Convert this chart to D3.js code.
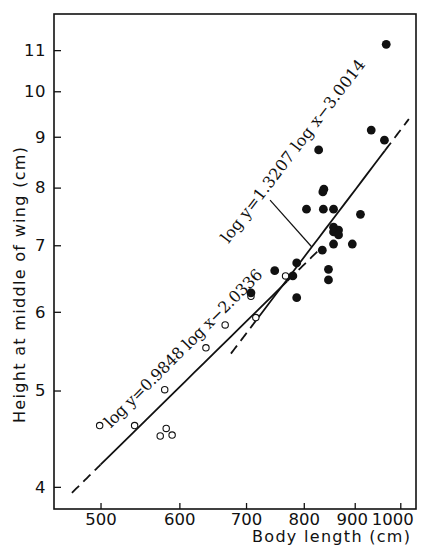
<!DOCTYPE html>
<html><head><meta charset="utf-8">
<script src="https://cdn.jsdelivr.net/npm/d3@7/dist/d3.min.js"></script>
<style>body{margin:0;background:#fff}svg{display:block}</style>
</head><body>
<svg id="c" width="424" height="551"></svg>
<script>
// Data
const xTicks = [500, 600, 700, 800, 900, 1000];
const yTicks = [4, 5, 6, 7, 8, 9, 10, 11];
// open circles (smaller specimens)
const openX = [499, 541, 580, 574, 582, 590, 638, 667, 716, 708, 767];
const openY = [4.61, 4.61, 5.01, 4.50, 4.58, 4.51, 5.52, 5.82, 5.92, 6.22, 6.52];
// filled circles (larger specimens)
const fillX = [968, 935, 964, 828, 836, 838, 805, 837, 857, 912, 857, 867, 857, 867, 857, 895, 835, 787, 847, 847, 748, 780, 787, 708];
const fillY = [11.15, 9.14, 8.93, 8.73, 7.92, 7.97, 7.61, 7.61, 7.61, 7.52, 7.30, 7.25, 7.22, 7.17, 7.02, 7.02, 6.92, 6.72, 6.62, 6.46, 6.60, 6.52, 6.20, 6.27];
// regression lines: log y = a log x + b
const fit1 = {a: 0.9848, b: -2.0336, dash1: [468, 500], solid: [500, 770], dash2: [770, 830]};
const fit2 = {a: 1.3207, b: -3.0014, dash1: [676, 716], solid: [716, 965], dash2: [965, 1020]};
const label1 = "log y=0.9848 log x\u22122.0336";
const label2 = "log y=1.3207 log x\u22123.0014";
const xTitle = "Body length (cm)";
const yTitle = "Height at middle of wing (cm)";

const L = 54, R = 416, T = 14, B = 509;
const x = d3.scaleLog().domain([449, 1037]).range([L, R]);
const y = d3.scaleLog().domain([3.8, 11.96]).range([B, T]);
const svg = d3.select("#c");
const f = (fit, v) => Math.pow(10, fit.a * Math.log10(v) + fit.b);

// frame
svg.append("rect").attr("x", L).attr("y", T).attr("width", R - L).attr("height", B - T)
  .attr("fill", "none").attr("stroke", "#111").attr("stroke-width", 1.6);

// y axis ticks (inward)
const yAxis = d3.axisLeft(y).tickValues(yTicks).tickSize(-7).tickPadding(8).tickFormat(d3.format("d"));
const gy = svg.append("g").attr("transform", `translate(${L},0)`).call(yAxis);
gy.select(".domain").remove();
gy.selectAll("line").attr("stroke", "#111").attr("stroke-width", 1.3);
gy.selectAll("text").attr("font-family", "DejaVu Sans, sans-serif").attr("font-size", 16.5).attr("fill", "#111").attr("letter-spacing", 0.5);

const xAxis = d3.axisBottom(x).tickValues(xTicks).tickSize(-6).tickPadding(4).tickFormat(d3.format("d"));
const gx = svg.append("g").attr("transform", `translate(0,${B})`).call(xAxis);
gx.select(".domain").remove();
gx.selectAll("line").attr("stroke", "#111").attr("stroke-width", 1.3);
gx.selectAll("text").attr("font-family", "DejaVu Sans, sans-serif").attr("font-size", 16.5).attr("fill", "#111")
  .attr("dx", d => d === 1000 ? -8 : (d === 900 ? -3 : 0));

// axis titles
svg.append("text").attr("x", 331).attr("y", 542).attr("text-anchor", "middle")
  .attr("font-family", "DejaVu Sans, sans-serif").attr("font-size", 16).attr("fill", "#111")
  .attr("textLength", 158).attr("lengthAdjust", "spacing").text(xTitle);
svg.append("text").attr("transform", "translate(25,285) rotate(-90)").attr("text-anchor", "middle")
  .attr("font-family", "DejaVu Sans, sans-serif").attr("font-size", 16).attr("fill", "#111")
  .attr("textLength", 276).attr("lengthAdjust", "spacing").text(yTitle);

// regression lines
function seg(fit, range, dashed) {
  const pts = d3.range(0, 21).map(i => range[0] + (range[1] - range[0]) * i / 20);
  svg.append("path").datum(pts)
    .attr("d", d3.line().x(v => x(v)).y(v => y(f(fit, v))))
    .attr("fill", "none").attr("stroke", "#111").attr("stroke-width", 1.8)
    .attr("stroke-dasharray", dashed ? "10,6" : null);
}
[fit1, fit2].forEach(fit => {
  seg(fit, fit.dash1, true);
  seg(fit, fit.solid, false);
  seg(fit, fit.dash2, true);
});

// pointer line for label 2
svg.append("line").attr("x1", x(740)).attr("y1", y(7.77)).attr("x2", x(815)).attr("y2", y(f(fit2, 815)))
  .attr("stroke", "#111").attr("stroke-width", 1.2);

// open circles
svg.append("g").selectAll("circle").data(openX.map((v, i) => [v, openY[i]])).join("circle")
  .attr("cx", d => x(d[0])).attr("cy", d => y(d[1])).attr("r", 3.2)
  .attr("fill", "#fff").attr("stroke", "#111").attr("stroke-width", 1.1);
// filled circles
svg.append("g").selectAll("circle").data(fillX.map((v, i) => [v, fillY[i]])).join("circle")
  .attr("cx", d => x(d[0])).attr("cy", d => y(d[1])).attr("r", 4.4)
  .attr("fill", "#111");

// equation labels
svg.append("text").attr("transform", `translate(${x(512)},${y(4.58)}) rotate(-45)`)
  .attr("font-family", "DejaVu Serif, serif").attr("font-size", 16).attr("fill", "#111")
  .attr("textLength", 216).attr("lengthAdjust", "spacing").text(label1);
svg.append("text").attr("transform", `translate(${x(672)},${y(7.02)}) rotate(-52.5)`)
  .attr("font-family", "DejaVu Serif, serif").attr("font-size", 16).attr("fill", "#111")
  .attr("textLength", 226).attr("lengthAdjust", "spacing").text(label2);
</script>
</body></html>
